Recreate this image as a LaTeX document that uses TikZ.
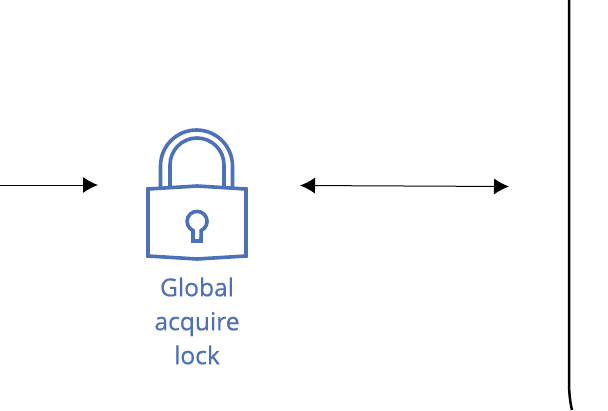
\documentclass[tikz,border=0pt]{standalone}
\usepackage{fontspec}
\setmainfont[FakeBold=0.5]{Open Sans}
\usetikzlibrary{arrows.meta}
\definecolor{lockblue}{HTML}{4C70B9}
\tikzset{
  >={Latex[length=15pt,width=16pt]},
}
\tikzstyle{link}=[line width=1pt,<->]
\tikzstyle{linkin}=[line width=1pt,->]
\tikzstyle{lockline}=[line width=3.6pt,lockblue,line join=miter]
\tikzstyle{locklabel}=[font=\fontsize{24.6}{34}\selectfont,text=lockblue,align=center]
\tikzstyle{frame}=[line width=2.5pt]

\begin{document}
\begin{tikzpicture}[x=1pt,y=-1pt]
    \useasboundingbox (0,0) rectangle (608,410);

    % lock
    \draw[lockline] (148,189)--(197,186)--(246,189)--(246,256)--(197,259)--(148,256)--cycle;
    \draw[lockline] (160.5,188)--(160.5,166) arc[start angle=180,end angle=0,x radius=36,y radius=-36]--(232.5,188);
    \draw[lockline] (170,187)--(170,165) arc[start angle=180,end angle=0,x radius=27,y radius=-27]--(224,187);
    \draw[lockline] (193,230.5) arc[start angle=114,end angle=426,radius=10]--(201,241)--(193,241)--cycle;

    \node[locklabel] (lock) at (197,321) {Global\\acquire\\lock};

    \coordinate (start) at (0,185);
    \coordinate (lockin) at (98,185);
    \coordinate (lockout) at (300,185.5);
    \coordinate (server) at (509,186.5);
    \draw[linkin] (start)--(lockin);
    \draw[link] (lockout)--(server);

    \draw[frame] (569,0)--(569,382) .. controls (569,392) and (570,402) .. (572,410);
\end{tikzpicture}
\end{document}
